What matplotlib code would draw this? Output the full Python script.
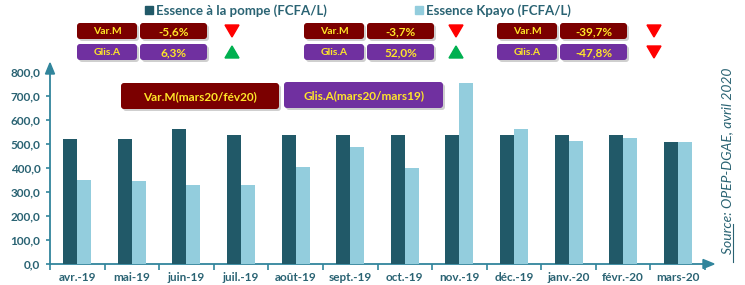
import matplotlib as mpl
mpl.use('Agg')
import matplotlib.pyplot as plt
from matplotlib.patches import FancyBboxPatch, Polygon
from matplotlib.ticker import FuncFormatter

months = ['avr.-19', 'mai-19', 'juin-19', 'juil.-19', 'août-19', 'sept.-19',
          'oct.-19', 'nov.-19', 'déc.-19', 'janv.-20', 'févr.-20', 'mars-20']
pompe = [521, 520, 561, 535, 535, 535, 535, 535, 535, 535, 535, 506]
kpayo = [351, 345, 328, 328, 404, 488, 398, 755, 560, 510, 526, 506]

series_names = ['Essence à la pompe (FCFA/L)', 'Essence Kpayo (FCFA/L)']
var_m = ['-5,6%', '-3,7%', '-39,7%']
glis_a = ['6,3%', '52,0%', '-47,8%']
var_up = [False, False, False]
glis_up = [True, True, False]

c_dark = '#215968'
c_light = '#93CDDD'
c_axis = '#31859C'
c_text = '#2A6373'
c_red_box = '#7B0000'
c_purple = '#7030A0'
c_yellow = '#FFE629'

plt.rcParams['font.family'] = ['Lato', 'DejaVu Sans']

W, H = 745, 285
fig = plt.figure(figsize=(W / 100, H / 100), dpi=100)

# main chart axes, placed in pixels
x0, x1, yb, yt = 50, 705, 264, 71.7
ax = fig.add_axes([x0 / W, 1 - yb / H, (x1 - x0) / W, (yb - yt) / H])
x = list(range(len(months)))
w = 0.256
ax.bar([i - w / 2 for i in x], pompe, width=w, color=c_dark, zorder=3)
ax.bar([i + w / 2 for i in x], kpayo, width=w, color=c_light, zorder=3)
ax.set_xlim(-0.5, 11.5)
ax.set_ylim(0, 800)
ax.set_yticks(range(0, 801, 100))
ax.yaxis.set_major_formatter(FuncFormatter(lambda v, p: f'{v:.1f}'.replace('.', ',')))
ax.set_xticks(x)
ax.set_xticklabels(months)
ax.set_xticks([i + 0.5 for i in range(-1, 12)], minor=True)
ax.tick_params(axis='x', which='major', length=0, pad=6, labelsize=8.5, labelcolor=c_text)
ax.tick_params(axis='x', which='minor', length=4, color=c_axis, width=1.2, direction='out')
ax.tick_params(axis='y', length=3, color=c_axis, width=1.2, labelsize=8.5, labelcolor=c_text, pad=4)
for lab in ax.get_xticklabels() + ax.get_yticklabels():
    lab.set_fontweight('bold')
for s in ['top', 'right']:
    ax.spines[s].set_visible(False)
for s in ['left', 'bottom']:
    ax.spines[s].set_color(c_axis)
    ax.spines[s].set_linewidth(1.3)
ax.patch.set_alpha(0)

# overlay axes in pixel coordinates for annotations
ov = fig.add_axes([0, 0, 1, 1])
ov.set_xlim(0, W)
ov.set_ylim(H, 0)
ov.axis('off')
ov.patch.set_alpha(0)

# axis arrows
ov.add_patch(Polygon([[45.5, 74], [54.5, 74], [50, 63]], closed=True, color=c_axis))
ov.add_patch(Polygon([[703, 259.5], [703, 268.5], [714, 264]], closed=True, color=c_axis))

# legend
for lx, name, col in [(145, series_names[0], c_dark), (415, series_names[1], c_light)]:
    ov.add_patch(plt.Rectangle((lx, 6), 8, 8, color=col))
    ov.text(lx + 11, 10.5, name, fontsize=9.5, color=c_text, fontweight='bold',
            va='center', ha='left')


def box(xa, ya, wb, hb, col, txt, fs):
    ov.add_patch(FancyBboxPatch((xa + 2, ya + 2), wb, hb, boxstyle='round,pad=0,rounding_size=3',
                                fc='#a0a0a0', ec='none', alpha=0.5))
    ov.add_patch(FancyBboxPatch((xa, ya), wb, hb, boxstyle='round,pad=0,rounding_size=3',
                                fc=col, ec='none'))
    ov.text(xa + wb / 2, ya + hb / 2 + 0.5, txt, fontsize=fs, color=c_yellow,
            ha='center', va='center', fontweight='bold')


def tri(cx, cy, up):
    if up:
        pts = [[cx - 7, cy + 6], [cx + 7, cy + 6], [cx, cy - 6]]
        col = '#00B050'
    else:
        pts = [[cx - 7, cy - 6], [cx + 7, cy - 6], [cx, cy + 6]]
        col = '#FF0000'
    ov.add_patch(Polygon(pts, closed=True, color=col))


groups = [(77, 140, 232), (304, 367, 456), (497, 560, 654)]
for k, (lx, vx, tx) in enumerate(groups):
    box(lx, 23, 60, 16, c_red_box, 'Var.M', 7.5)
    box(vx, 23, 67, 16, c_red_box, var_m[k], 8.5)
    box(lx, 44, 60, 16, c_purple, 'Glis.A', 7.5)
    box(vx, 44, 67, 16, c_purple, glis_a[k], 8.5)
    tri(tx, 31, var_up[k])
    tri(tx, 52, glis_up[k])

box(121, 83, 158, 26, c_red_box, 'Var.M(mars20/fév20)', 8.5)
box(284, 82, 159, 26, c_purple, 'Glis.A(mars20/mars19)', 8.5)

# source
ov.text(727, 161, 'Source: OPEP-DGAE, avril 2020', rotation=90, fontsize=10,
        color=c_text, fontstyle='italic', ha='center', va='center')
ov.plot([733, 733], [262, 224], color=c_text, lw=0.8)

fig.savefig('out.png', dpi=100)
plt.close()
